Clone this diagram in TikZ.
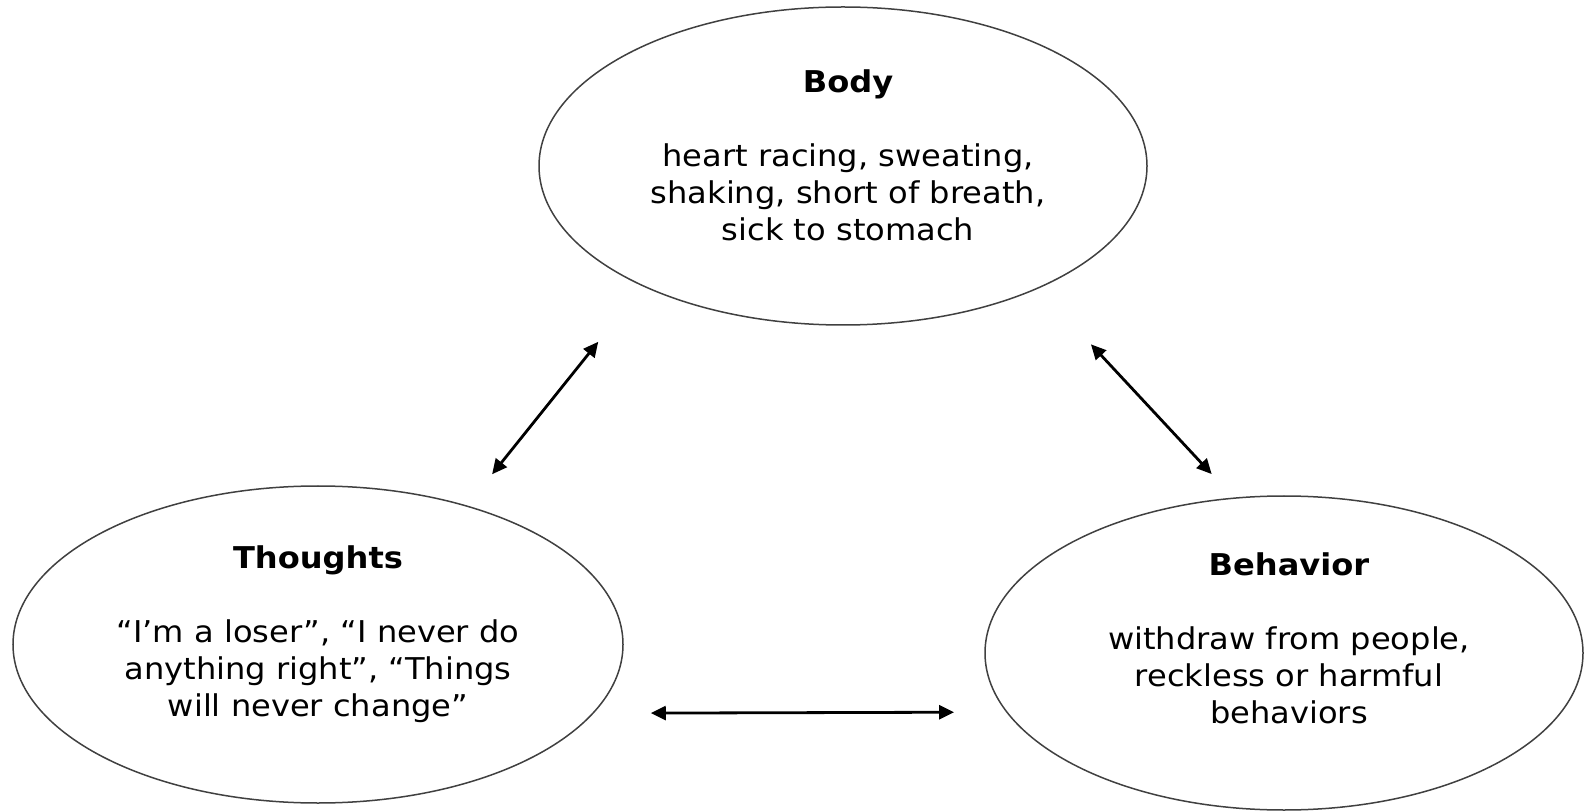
\documentclass[tikz,border=0pt]{standalone}
\usepackage{fontspec}
\setmainfont{DejaVu Sans}[FakeStretch=1.07]
\usetikzlibrary{shapes.geometric,arrows.meta}

\begin{document}
\begin{tikzpicture}[
    x=0.5pt, y=-0.5pt,
    every node/.style={font=\fontsize{15}{18.5}\selectfont},
    oval/.style={ellipse, draw=black!75, line width=0.75pt, inner sep=0pt},
    caption/.style={align=center, inner sep=0pt},
    arrow/.style={{Triangle[length=7.5pt,width=7pt]}-{Triangle[length=7.5pt,width=7pt]}, line width=1.4pt},
]
\useasboundingbox (0,0) rectangle (1585,812);

% Ellipses
\node[oval, minimum width=304pt, minimum height=159pt] (body) at (843,166) {};
\node[oval, minimum width=305pt, minimum height=158.5pt] (thoughts) at (318,644.5) {};
\node[oval, minimum width=299pt, minimum height=157pt] (behavior) at (1284,653) {};

% Texts
\node[caption] (body_text) at (848,155.5) {\textbf{Body}\\[18.5pt]
    heart racing, sweating,\\
    shaking, short of breath,\\
    sick to stomach};
\node[caption] (thoughts_text) at (318,634) {\textbf{Thoughts}\\[18.5pt]
    “I’m a loser”, “I never do\\
    anything right”, “Things\\
    will never change”};
\node[caption] (behavior_text) at (1289,638) {\textbf{Behavior}\\[18.5pt]
    withdraw from people,\\
    reckless or harmful\\
    behaviors};

% Arrows between ellipses
\draw[arrow, shorten <=20pt, shorten >=35.5pt] (thoughts.43.2) -- (body.211.8);
\draw[arrow, shorten <=38.2pt, shorten >=16pt] (body.328.6) -- (behavior.108.2);
\draw[arrow, shorten <=28.5pt, shorten >=26pt] (thoughts.346) -- (behavior.192.25);

\end{tikzpicture}
\end{document}
